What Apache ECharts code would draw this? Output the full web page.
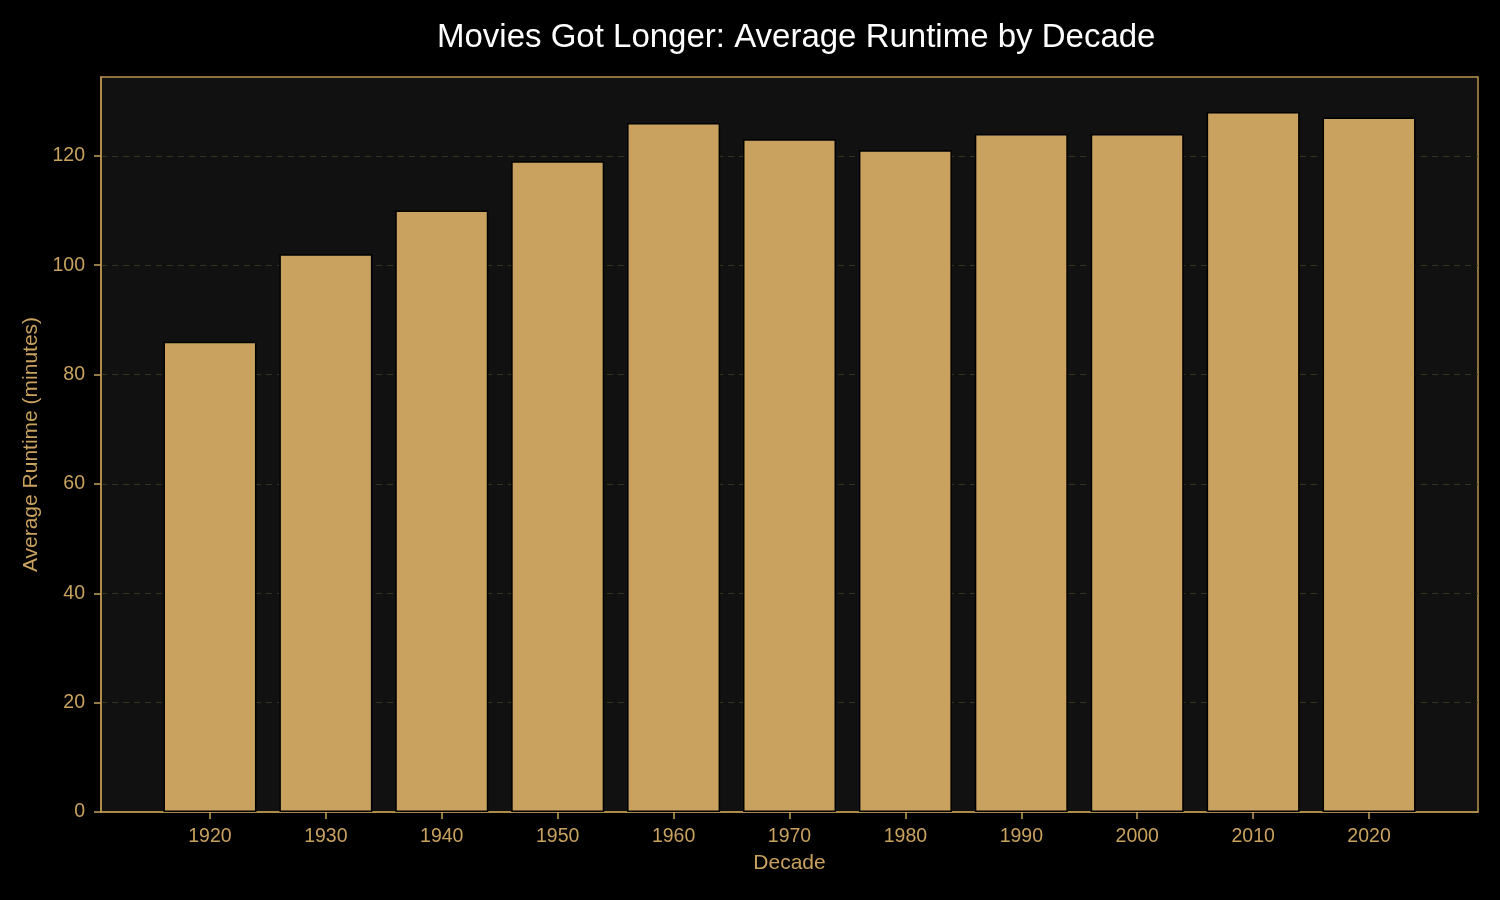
<!DOCTYPE html>
<html>
<head>
<meta charset="utf-8"/>
<title>Movies Got Longer</title>
<script src="https://cdn.jsdelivr.net/npm/echarts@6/dist/echarts.min.js"></script>
<style>
html,body{margin:0;padding:0;background:#000;}
#main{width:1500px;height:900px;}
</style>
</head>
<body>
<div id="main"></div>
<script type="text/javascript">
var decades = ['1920','1930','1940','1950','1960','1970','1980','1990','2000','2010','2020'];
var runtimes = [86, 102, 110, 119, 126, 123, 121, 124, 124, 128, 127];
var yTicks = [0, 20, 40, 60, 80, 100, 120];

var gold = '#C8A25E';
var font = 'Arial, Liberation Sans, sans-serif';
var positions = decades.map(function(d, i){ return i; });
var barData = runtimes.map(function(v, i){ return [i, v]; });

var myChart = echarts.init(document.getElementById('main'));
var option = {
    backgroundColor: '#000',
    animation: false,
    title: {
        text: 'Movies Got Longer: Average Runtime by Decade',
        left: 432,
        top: 16,
        textStyle: {color: '#fff', fontWeight: 'normal', fontSize: 33, fontFamily: font}
    },
    grid: {
        left: 101,
        right: 22,
        top: 77,
        bottom: 88,
        show: true,
        backgroundColor: '#111111',
        borderColor: '#B8944F',
        borderWidth: 1.5
    },
    xAxis: {
        type: 'value',
        min: -0.94,
        max: 10.94,
        name: 'Decade',
        nameLocation: 'middle',
        nameGap: 41,
        nameTextStyle: {color: gold, fontSize: 21, fontFamily: font},
        axisLine: {show: true, onZero: false, lineStyle: {color: '#B8944F', width: 1.5}},
        axisTick: {show: true, customValues: positions, length: 7, lineStyle: {color: gold, width: 1.5}},
        axisLabel: {
            customValues: positions,
            color: gold,
            fontSize: 19.5,
            margin: 15,
            fontFamily: font,
            formatter: function(v){ return decades[Math.round(v)]; }
        },
        splitLine: {show: false}
    },
    yAxis: {
        type: 'value',
        min: 0,
        max: 134.4,
        name: 'Average Runtime (minutes)',
        nameLocation: 'middle',
        nameRotate: 90,
        nameGap: 58,
        nameTextStyle: {color: gold, fontSize: 21, fontFamily: font},
        axisLine: {show: true, onZero: false, lineStyle: {color: '#B8944F', width: 1.5}},
        axisTick: {show: true, customValues: yTicks, length: 7, lineStyle: {color: gold, width: 1.5}},
        axisLabel: {
            customValues: yTicks,
            color: gold,
            fontSize: 19.5,
            margin: 16,
            fontFamily: font
        },
        splitLine: {show: false}
    },
    series: [
        {
            type: 'bar',
            data: barData,
            barWidth: 93,
            itemStyle: {color: gold, borderColor: '#000', borderWidth: 1.5},
            markLine: {
                silent: true,
                symbol: 'none',
                label: {show: false},
                lineStyle: {color: '#37331f', type: [6, 5], width: 1},
                data: yTicks.slice(1).map(function(t){ return {yAxis: t}; }),
                z: 0
            },
            z: 3
        }
    ]
};
myChart.setOption(option);
</script>
</body>
</html>
